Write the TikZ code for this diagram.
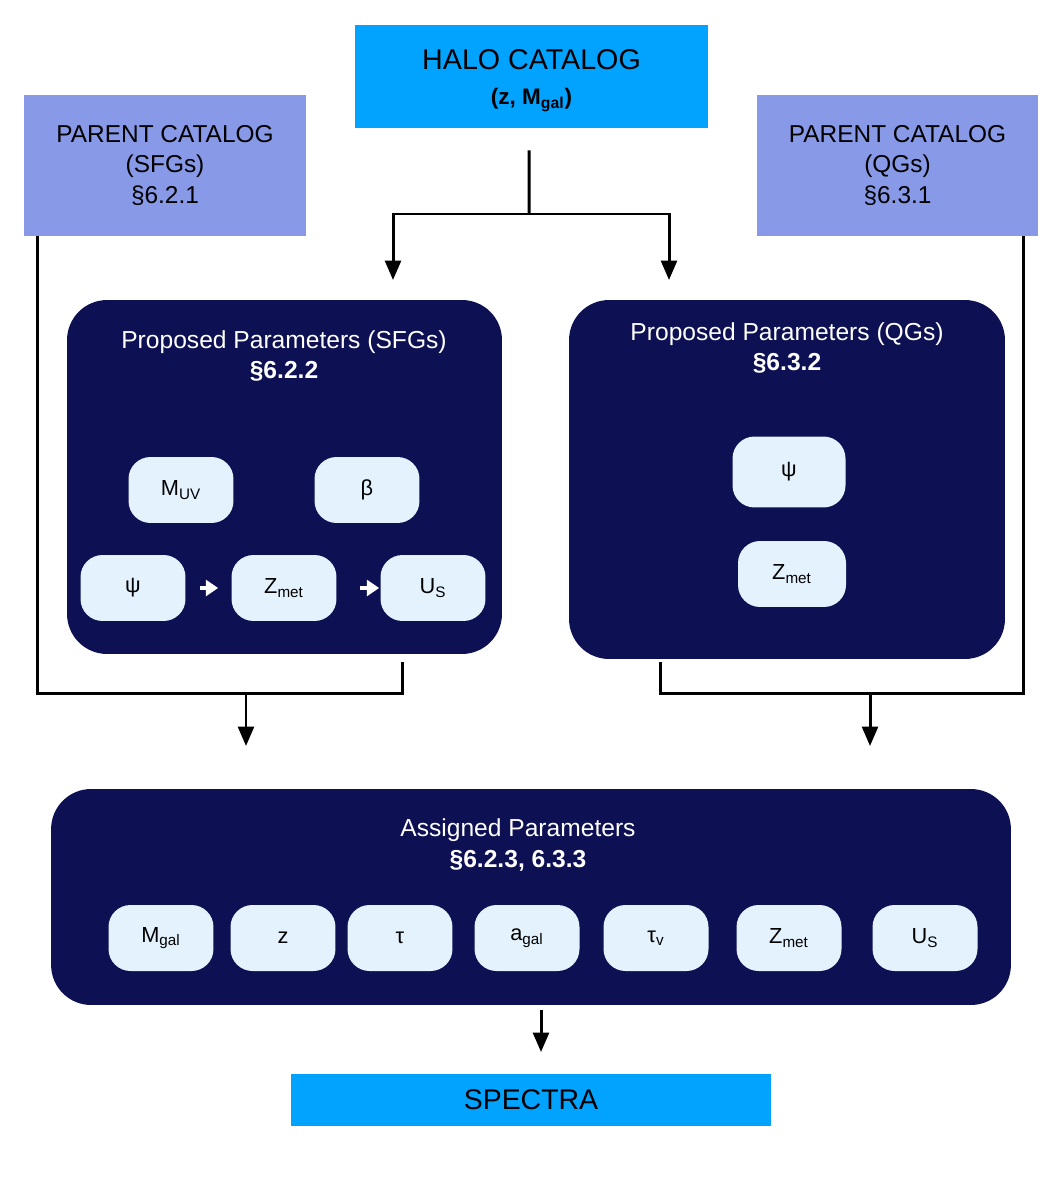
\documentclass[tikz,border=0pt]{standalone}
\usepackage{fontspec}
\setmainfont{Liberation Sans}
\usepackage{tikz}
\usetikzlibrary{arrows.meta}

\definecolor{halocol}{HTML}{02A2FF}
\definecolor{parentcol}{HTML}{8799E7}
\definecolor{panelcol}{HTML}{0D1052}
\definecolor{paramcol}{HTML}{E4F2FD}

\newcommand{\lowsub}[1]{\textsubscript{#1}}

\begin{document}
\begin{tikzpicture}[x=0.02cm, y=-0.02cm,
    every node/.style={font=\fontsize{12.4}{15}\selectfont},
    catbox/.style={fill=parentcol, minimum width=5.64cm, minimum height=2.82cm, align=center,
        font=\fontsize{13.9}{17.6}\selectfont},
    panel/.style={fill=panelcol, rounded corners=0.8cm},
    paneltitle/.style={text=white, align=center, font=\fontsize{14}{17.6}\selectfont},
    param/.style={fill=paramcol, rounded corners=0.44cm, minimum width=2.1cm, minimum height=1.32cm},
    line/.style={line width=1.7pt},
    arrow/.style={line width=1.7pt, -{Triangle[width=9pt,length=11pt]}},
    warrow/.style={white, line width=2.4pt, -{Triangle[width=9pt,length=7pt]}}]
    \useasboundingbox (0,0) rectangle (1063,1182);

    % catalogs on top
    \node[fill=halocol, minimum width=7.06cm, minimum height=2.06cm] (halo) at (531.5,76.5) {};
    \node[align=center] (halolabel) at (531.5,81)
        {{\fontsize{16.3}{20}\selectfont HALO CATALOG}\\[5pt]{\fontsize{12.8}{15}\selectfont\bfseries (z, M\lowsub{gal})}};
    \node[catbox] (sfgcat) at (165,165.5) {PARENT CATALOG\\(SFGs)\\\S6.2.1};
    \node[catbox] (qgcat) at (897.5,165.5) {PARENT CATALOG\\(QGs)\\\S6.3.1};

    % proposed parameters, SFGs
    \node[panel, minimum width=8.7cm, minimum height=7.08cm] (sfgpanel) at (284.5,477) {};
    \node[paneltitle] (sfgtitle) at (284,356) {Proposed Parameters (SFGs)\\\textbf{\S6.2.2}};
    \node[param] (muv) at (181,490) {M\lowsub{UV}};
    \node[param] (beta) at (367,490) {β};
    \node[param] (sfgpsi) at (133,588) {ψ};
    \node[param] (sfgzmet) at (284,588) {Z\lowsub{met}};
    \node[param] (sfgus) at (433,588) {U\lowsub{S}};
    \draw[warrow] ([xshift=0.28cm]sfgpsi.east) -- ([xshift=-0.26cm]sfgzmet.west);
    \draw[warrow] ([xshift=0.46cm]sfgzmet.east) -- ([xshift=-0.02cm]sfgus.west);

    % proposed parameters, QGs
    \node[panel, minimum width=8.72cm, minimum height=7.18cm] (qgpanel) at (787,479.5) {};
    \node[paneltitle] (qgtitle) at (787,348) {Proposed Parameters (QGs)\\\textbf{\S6.3.2}};
    \node[param, minimum width=2.26cm, minimum height=1.42cm] (qgpsi) at (789,472) {ψ};
    \node[param, minimum width=2.16cm] (qgzmet) at (792,574) {Z\lowsub{met}};

    % assigned parameters
    \node[panel, minimum width=19.2cm, minimum height=4.32cm] (assigned) at (531,897) {};
    \node[paneltitle] (astitle) at (518,845) {Assigned Parameters\\\textbf{\S6.2.3, 6.3.3}};
    \node[param] (mgal) at (161,938) {M\lowsub{gal}};
    \node[param] (z) at (283,938) {z};
    \node[param] (tau) at (400,938) {τ};
    \node[param] (agal) at (527,938) {a\lowsub{gal}};
    \node[param] (tauv) at (656,938) {τ\lowsub{v}};
    \node[param] (azmet) at (789,938) {Z\lowsub{met}};
    \node[param] (aus) at (925,938) {U\lowsub{S}};

    \node[fill=halocol, minimum width=9.6cm, minimum height=1.04cm, font=\fontsize{16.2}{20}\selectfont] (spectra) at (531,1100) {SPECTRA};

    % connectors
    \coordinate (hsplit) at (529,214);
    \coordinate (sfgjoin) at (402,693);
    \coordinate (qgjoin) at (660,693);
    \coordinate (sfgmerge) at (246,693);
    \coordinate (qgmerge) at (870,693);

    \draw[line] ([xshift=-0.05cm,yshift=-0.44cm]halo.south) -- (hsplit);
    \draw[arrow] (hsplit) -| (393,280);
    \draw[arrow] (hsplit) -| (669,280);

    \draw[line] ([xshift=0.28cm]sfgcat.south west) |- (sfgjoin) -- (sfgjoin |- 662,662);
    \draw[arrow] (sfgmerge) -- (246,746);

    \draw[line] ([xshift=-0.3cm]qgcat.south east) |- (qgjoin) -- (qgjoin |- 662,662);
    \draw[arrow] (qgmerge) -- (870,746);

    \draw[arrow] (541,1010) -- (541,1052);
\end{tikzpicture}
\end{document}
